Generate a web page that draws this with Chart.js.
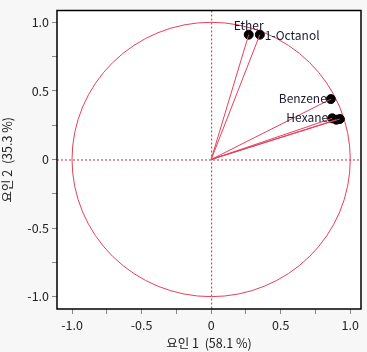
<!DOCTYPE html>
<html>
<head>
<meta charset="utf-8">
<script src="https://cdn.jsdelivr.net/npm/chart.js@4"></script>
<style>
  html, body { margin:0; padding:0; background:#f7f7f7; }
  #wrap { width:367px; height:352px; }
</style>
</head>
<body>
<div id="wrap"><canvas id="c" width="367" height="352"></canvas></div>
<script>
// loadings
const names = ['Ether', '1-Octanol', 'Benzene', 'Hexane', '', ''];
const factor1 = [0.27, 0.35, 0.86, 0.87, 0.90, 0.925];
const factor2 = [0.91, 0.91, 0.44, 0.30, 0.29, 0.295];
const tickVals = [-1, -0.75, -0.5, -0.25, 0, 0.25, 0.5, 0.75, 1];
const xTitle = '요인 1  (58.1 %)';
const yTitle = '요인 2  (35.3 %)';

const RED = '#e8405a';
const FONT = "'Noto Sans CJK KR', 'Noto Sans', sans-serif";

const pts = factor1.map((x, i) => ({ x, y: factor2[i] }));
const vectors = pts.map(p => ({
  type: 'scatter', data: [{ x: 0, y: 0 }, p], showLine: true,
  borderColor: RED, borderWidth: 1, pointRadius: 0
}));

// label offsets: [dx, dy, align]
const labelPos = {
  'Ether': [0, -9, 'center'],
  '1-Octanol': [5, 1, 'left'],
  'Benzene': [-4, -1, 'right'],
  'Hexane': [-4, -1, 'right']
};

const decor = {
  id: 'decor',
  beforeDatasetsDraw(chart) {
    const { ctx, chartArea: a, scales: { x, y } } = chart;
    ctx.save();
    ctx.fillStyle = '#fff';
    ctx.fillRect(a.left, a.top, a.right - a.left, a.bottom - a.top);
    // zero lines
    ctx.strokeStyle = '#c8283c';
    ctx.lineWidth = 1;
    ctx.setLineDash([2, 2]);
    ctx.beginPath();
    ctx.moveTo(x.getPixelForValue(0) + 0.5, a.top);
    ctx.lineTo(x.getPixelForValue(0) + 0.5, a.bottom);
    ctx.moveTo(a.left, y.getPixelForValue(0) + 0.5);
    ctx.lineTo(a.right, y.getPixelForValue(0) + 0.5);
    ctx.stroke();
    ctx.setLineDash([]);
    // unit circle
    const cx = x.getPixelForValue(0), cy = y.getPixelForValue(0);
    const rx = x.getPixelForValue(1) - cx, ry = cy - y.getPixelForValue(1);
    ctx.strokeStyle = RED;
    ctx.beginPath();
    ctx.ellipse(cx, cy, rx, ry, 0, 0, Math.PI * 2);
    ctx.stroke();
    ctx.restore();
  },
  afterDatasetsDraw(chart) {
    const { ctx, chartArea: a, scales: { x, y } } = chart;
    ctx.save();
    ctx.font = '12px ' + FONT;
    ctx.fillStyle = '#1a1a2e';
    ctx.textBaseline = 'middle';
    pts.forEach((p, i) => {
      const lp = labelPos[names[i]];
      if (!lp) return;
      ctx.textAlign = lp[2];
      ctx.fillText(names[i], x.getPixelForValue(p.x) + lp[0], y.getPixelForValue(p.y) + lp[1]);
    });
    ctx.strokeStyle = '#000';
    ctx.lineWidth = 1.5;
    ctx.strokeRect(a.left, a.top, a.right - a.left, a.bottom - a.top);
    ctx.restore();
  }
};

const tickCb = v => (Math.abs(v * 2 - Math.round(v * 2)) > 1e-6) ? '' : (v === 0 ? '0' : v.toFixed(1));

new Chart(document.getElementById('c'), {
  type: 'scatter',
  data: {
    datasets: [
      ...vectors,
      { data: pts, backgroundColor: '#000', borderColor: '#000', pointRadius: 4.5, pointHoverRadius: 4.5 }
    ]
  },
  options: {
    responsive: false,
    animation: false,
    events: [],
    layout: { padding: { left: 0, right: 6, top: 6, bottom: 0 } },
    plugins: { legend: { display: false }, tooltip: { enabled: false } },
    scales: {
      x: {
        type: 'linear', min: -1.108, max: 1.077,
        afterBuildTicks: s => { s.ticks = tickVals.map(v => ({ value: v })); },
        afterFit: s => { s.height = 43; },
        grid: { drawOnChartArea: false, drawTicks: true, tickLength: 5, color: '#888' },
        border: { display: false },
        ticks: { callback: tickCb, color: '#222', font: { size: 12.5, family: FONT }, padding: 4, autoSkip: false, maxRotation: 0 },
        title: { display: true, text: xTitle, color: '#222', font: { size: 12.5, family: FONT }, padding: { top: 0, bottom: 1 } }
      },
      y: {
        type: 'linear', min: -1.09, max: 1.086,
        afterBuildTicks: s => { s.ticks = tickVals.map(v => ({ value: v })); },
        afterFit: s => { s.width = 57; },
        grid: { drawOnChartArea: false, drawTicks: true, tickLength: 5, color: '#888' },
        border: { display: false },
        ticks: { callback: tickCb, color: '#222', font: { size: 12.5, family: FONT }, padding: 3, autoSkip: false },
        title: { display: true, text: yTitle, color: '#222', font: { size: 12.5, family: FONT }, padding: { top: 0, bottom: 2 } }
      }
    }
  },
  plugins: [decor]
});
</script>
</body>
</html>
